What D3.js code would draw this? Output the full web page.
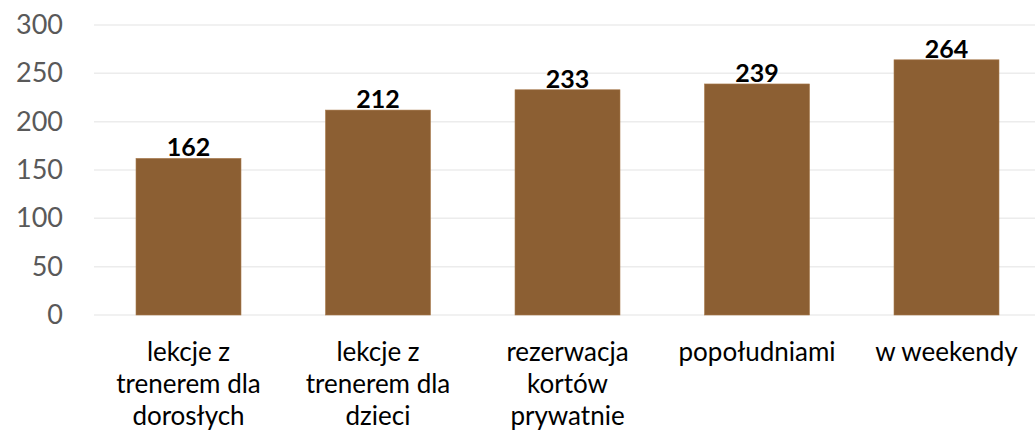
<!DOCTYPE html>
<html>
<head>
<meta charset="utf-8">
<script src="https://cdn.jsdelivr.net/npm/d3@7"></script>
<style>
    body { margin: 0; background: #fff; }
</style>
</head>
<body>
<div id="chart"></div>
<script>
const categories = [
    ["lekcje z", "trenerem dla", "dorosłych"],
    ["lekcje z", "trenerem dla", "dzieci"],
    ["rezerwacja", "kortów", "prywatnie"],
    ["popołudniami"],
    ["w weekendy"]
];
const values = [162, 212, 233, 239, 264];
const yTicks = [0, 50, 100, 150, 200, 250, 300];

const width = 1035;
const height = 432;

const svg = d3.select("#chart").append("svg")
    .attr("width", width)
    .attr("height", height)
    .style("font-family", "Lato, 'Open Sans', sans-serif");

const keys = categories.map(c => c.join(" "));

const x = d3.scaleBand()
    .domain(keys)
    .range([93.75, 1041.25])
    .paddingInner(0.446)
    .paddingOuter(0.223);

const y = d3.scaleLinear()
    .domain([0, 300])
    .range([315, 25]);

// gridlines
svg.append("g")
    .selectAll("line")
    .data(yTicks)
    .join("line")
    .attr("x1", 94)
    .attr("x2", width)
    .attr("y1", d => y(d))
    .attr("y2", d => y(d))
    .attr("stroke", "#ececec")
    .attr("stroke-width", 1.5);

// y axis labels
const yAxis = svg.append("g")
    .attr("transform", "translate(63,0)")
    .call(d3.axisLeft(y).tickValues(yTicks).tickSize(0).tickPadding(0));
yAxis.select(".domain").remove();
yAxis.selectAll("text")
    .attr("font-family", "Lato, 'Open Sans', sans-serif")
    .attr("font-size", 27)
    .attr("fill", "#595959");

// bars
svg.append("g")
    .selectAll("rect")
    .data(values)
    .join("rect")
    .attr("x", (d, i) => x(keys[i]))
    .attr("y", d => y(d))
    .attr("width", x.bandwidth())
    .attr("height", d => y(0) - y(d))
    .attr("fill", "#8c5f33")
    .attr("stroke", "#a87a4c")
    .attr("stroke-width", 0.6);

// value labels
svg.append("g")
    .selectAll("text")
    .data(values)
    .join("text")
    .attr("x", (d, i) => x(keys[i]) + x.bandwidth() / 2)
    .attr("y", d => y(d) - 2)
    .attr("text-anchor", "middle")
    .attr("font-size", 25)
    .attr("font-weight", "bold")
    .attr("fill", "#000")
    .text(d => d);

// category labels
const cat = svg.append("g")
    .selectAll("text")
    .data(categories)
    .join("text")
    .attr("text-anchor", "middle")
    .attr("font-size", 26)
    .attr("fill", "#000")
    .attr("transform", (d, i) => `translate(${x(keys[i]) + x.bandwidth() / 2},0)`);

cat.selectAll("tspan")
    .data(d => d)
    .join("tspan")
    .attr("x", 0)
    .attr("y", (d, j) => 361 + j * 32)
    .text(d => d);
</script>
</body>
</html>
